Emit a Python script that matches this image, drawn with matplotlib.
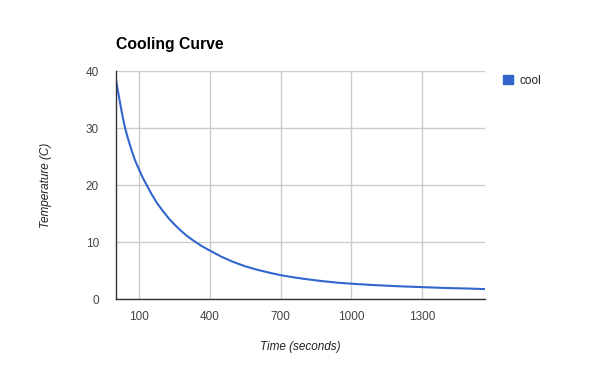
import matplotlib
matplotlib.use('Agg')
import matplotlib.pyplot as plt
from matplotlib.patches import Patch

plt.rcParams['font.family'] = ['Liberation Sans', 'DejaVu Sans']

# values
time_s = [0, 10, 20, 30, 40, 50, 60, 70, 80, 90, 100, 115, 132, 150, 175,
          200, 225, 250, 275, 300, 330, 365, 400, 450, 500, 550, 600, 650,
          700, 750, 800, 850, 900, 950, 1000, 1100, 1200, 1300, 1400, 1500,
          1570]
temp_c = [38.8, 36.4, 34.1, 31.9, 30.0, 28.5, 27.1, 25.8, 24.6, 23.6, 22.7,
          21.3, 20.0, 18.6, 16.9, 15.5, 14.2, 13.1, 12.1, 11.2, 10.3, 9.35,
          8.55, 7.45, 6.55, 5.8, 5.2, 4.7, 4.25, 3.9, 3.6, 3.33, 3.1, 2.9,
          2.75, 2.5, 2.3, 2.15, 2.0, 1.9, 1.8]
x_ticks = [100, 400, 700, 1000, 1300]
y_ticks = [0, 10, 20, 30, 40]
series_name = 'cool'

blue = '#3366cc'
grey = '#444444'

fig = plt.figure(figsize=(6, 3.71), dpi=100)
ax = fig.add_axes([0.1928, 0.193, 0.6163, 0.6156])

ax.plot(time_s, temp_c, color=blue, lw=1.5, solid_capstyle='round',
        solid_joinstyle='round')

ax.set_xlim(0, 1570)
ax.set_ylim(0, 40)
ax.set_xticks(x_ticks)
ax.set_yticks(y_ticks)
ax.grid(True, color='#cccccc', lw=1)
ax.set_axisbelow(True)

for s in ['top', 'right']:
    ax.spines[s].set_visible(False)
for s in ['left', 'bottom']:
    ax.spines[s].set_color('#333333')
    ax.spines[s].set_linewidth(1)
    ax.spines[s].set_zorder(3)

ax.tick_params(axis='both', length=0, labelsize=8.5, labelcolor=grey)
ax.tick_params(axis='x', pad=8)
ax.tick_params(axis='y', pad=12)

ax.set_xlabel('Time (seconds)', fontsize=8.5, style='italic', color='#222222', labelpad=13)
ax.set_ylabel('Temperature (C)', fontsize=8.5, style='italic', color='#222222', labelpad=24)

fig.text(116 / 600, 1 - 45 / 371, 'Cooling Curve', fontsize=11.3, fontweight='bold',
         ha='left', va='center', color='black')

handle = Patch(facecolor=blue, edgecolor=blue)
fig.legend([handle], [series_name], loc='upper left',
           bbox_to_anchor=(492 / 600, 1 - 64 / 371), frameon=False,
           fontsize=8.5, handlelength=0.9, handleheight=0.9, handletextpad=0.5,
           labelcolor='#222222')

fig.savefig('out.png', dpi=100)
